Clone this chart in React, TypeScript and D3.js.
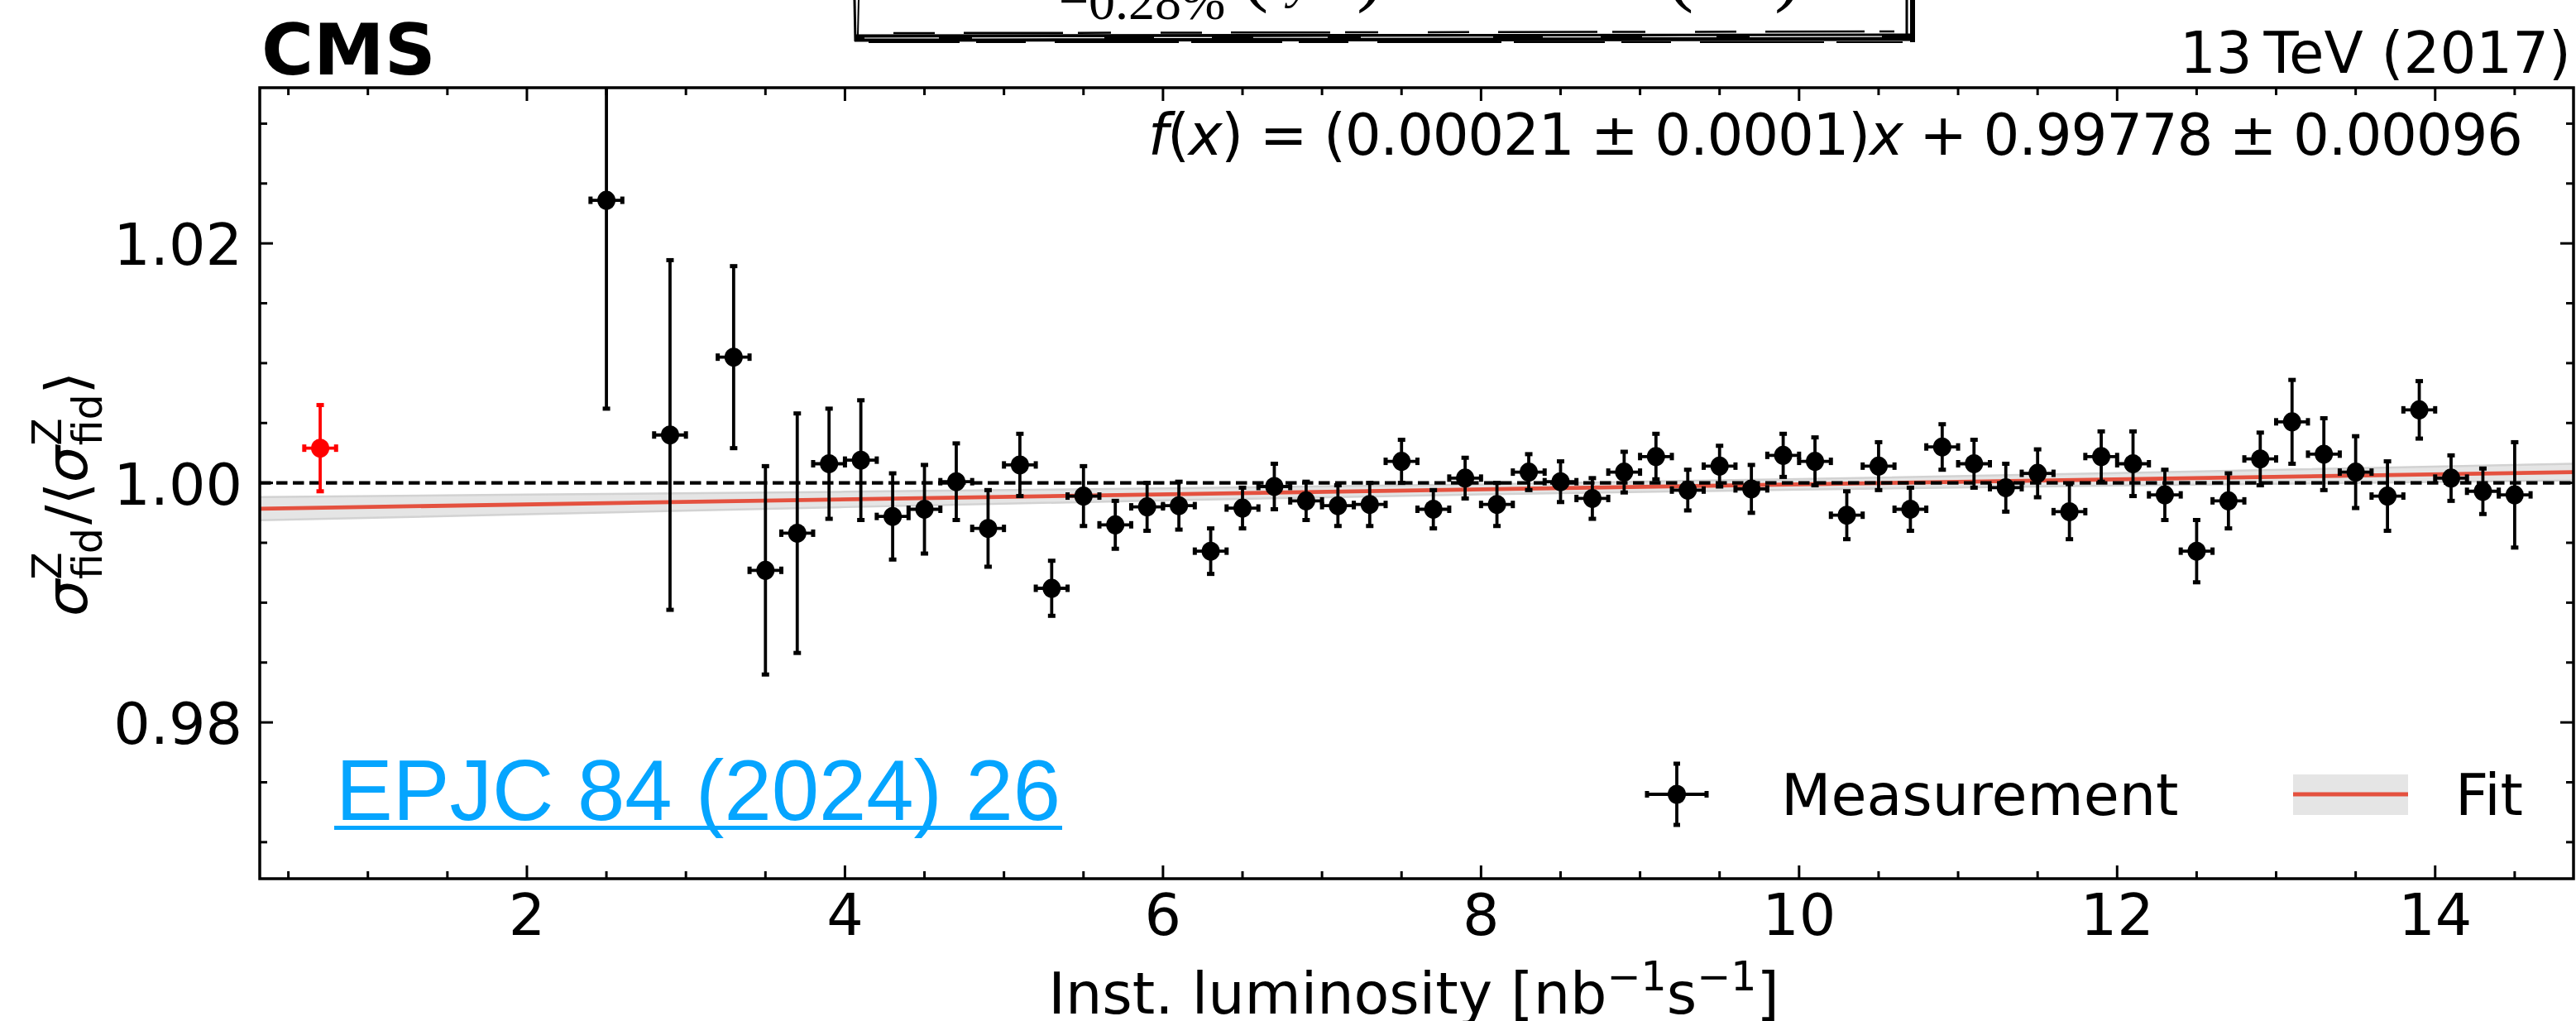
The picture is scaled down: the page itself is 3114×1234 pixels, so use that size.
import React from "react";
import * as d3 from "d3";

// ---------------- data ----------------
const lumi = [2.5, 2.9, 3.3, 3.5, 3.7, 3.9, 4.1, 4.3, 4.5, 4.7, 4.9, 5.1, 5.3, 5.5, 5.7, 5.9, 6.1, 6.3, 6.5, 6.7, 6.9, 7.1, 7.3, 7.5, 7.7, 7.9, 8.1, 8.3, 8.5, 8.7, 8.9, 9.1, 9.3, 9.5, 9.7, 9.9, 10.1, 10.3, 10.5, 10.7, 10.9, 11.1, 11.3, 11.5, 11.7, 11.9, 12.1, 12.3, 12.5, 12.7, 12.9, 13.1, 13.3, 13.5, 13.7, 13.9, 14.1, 14.3, 14.5];
const ratio = [1.0236, 1.004, 1.0105, 0.9927, 0.9958, 1.0016, 1.0019, 0.9972, 0.9978, 1.0001, 0.9962, 1.0015, 0.9912, 0.9989, 0.9965, 0.998, 0.9981, 0.9943, 0.9979, 0.9997, 0.9985, 0.9981, 0.9982, 1.0018, 0.9978, 1.0004, 0.9982, 1.0009, 1.0001, 0.9987, 1.0009, 1.0022, 0.9994, 1.0014, 0.9995, 1.0023, 1.0018, 0.9973, 1.0014, 0.9978, 1.003, 1.0016, 0.9996, 1.0008, 0.9976, 1.0022, 1.0016, 0.999, 0.9943, 0.9985, 1.002, 1.0051, 1.0024, 1.0009, 0.9989, 1.0061, 1.0004, 0.9993, 0.999];
const ratioErr = [0.0174, 0.0146, 0.0076, 0.0087, 0.01, 0.0046, 0.005, 0.0036, 0.0037, 0.0032, 0.0032, 0.0026, 0.0023, 0.0025, 0.002, 0.002, 0.002, 0.0019, 0.0017, 0.0019, 0.0016, 0.0017, 0.0018, 0.0018, 0.0016, 0.0017, 0.0018, 0.0015, 0.0017, 0.0017, 0.0017, 0.0019, 0.0017, 0.0017, 0.002, 0.0018, 0.002, 0.002, 0.002, 0.0018, 0.0019, 0.002, 0.002, 0.002, 0.0023, 0.0021, 0.0027, 0.0021, 0.0026, 0.0023, 0.0022, 0.0035, 0.003, 0.003, 0.0029, 0.0024, 0.0019, 0.0019, 0.0044];
const lumiErr = 0.1;

const refLumi = [0.7];
const refRatio = [1.0029];
const refErr = [0.0036];

const fitSlope = 0.00021;
const fitIntercept = 0.99778;
const bandX = [0.32, 2, 4, 6, 8, 10, 12, 14.87];
const bandHalf = [0.00097, 0.00082, 0.00064, 0.0005, 0.00042, 0.00044, 0.00052, 0.0007];

const xTicks = [2, 4, 6, 8, 10, 12, 14];
const xTickLabels = ["2", "4", "6", "8", "10", "12", "14"];
const yTicks = [0.98, 1.0, 1.02];
const yTickLabels = ["0.98", "1.00", "1.02"];

// ---------------- layout ----------------
const W = 3114;
const H = 1234;
const L = 314;
const R = 3111;
const T = 106;
const B = 1062;
const FONT = "DejaVu Sans";
const RED = "#e4513f";

const xScale = d3.scaleLinear().domain([0.32, 14.87]).range([L, R]);
const yScale = d3.scaleLinear().domain([0.96695, 1.033]).range([B, T]);

const xMinor = d3.range(1, 30).map((k) => k * 0.5).filter((v) => v < 14.87 && v % 2 !== 0);
const yMinor = d3.range(194, 207).map((k) => k * 0.005).filter((v) => Math.abs(Math.round(v * 50) - v * 50) > 1e-6);

function ErrPoint({ x, y, ey, ex, color, r }: { x: number; y: number; ey: number; ex: number; color: string; r: number }) {
  const cx = xScale(x);
  const cy = yScale(y);
  const yTop = yScale(y + ey);
  const yBot = yScale(y - ey);
  const xL = xScale(x - ex);
  const xR = xScale(x + ex);
  const cap = 4.5;
  const capT = 5;
  return (
    <g>
      <line x1={cx} x2={cx} y1={yTop} y2={yBot} stroke={color} strokeWidth={3.8} />
      <line x1={xL} x2={xR} y1={cy} y2={cy} stroke={color} strokeWidth={3.8} />
      <line x1={cx - cap} x2={cx + cap} y1={yTop} y2={yTop} stroke={color} strokeWidth={capT} />
      <line x1={cx - cap} x2={cx + cap} y1={yBot} y2={yBot} stroke={color} strokeWidth={capT} />
      <line x1={xL} x2={xL} y1={cy - cap} y2={cy + cap} stroke={color} strokeWidth={capT} />
      <line x1={xR} x2={xR} y1={cy - cap} y2={cy + cap} stroke={color} strokeWidth={capT} />
      <ellipse cx={cx} cy={cy} rx={r} ry={r + 0.5} fill={color} />
    </g>
  );
}

export default function App() {
  const fit = (x: number) => fitIntercept + fitSlope * x;
  const bandData = bandX.map((x, i) => ({ x, lo: fit(x) - bandHalf[i], hi: fit(x) + bandHalf[i] }));
  const area = d3
    .area<{ x: number; lo: number; hi: number }>()
    .x((d) => xScale(d.x))
    .y0((d) => yScale(d.lo))
    .y1((d) => yScale(d.hi))
    .curve(d3.curveMonotoneX);
  const edgeHi = d3
    .line<{ x: number; lo: number; hi: number }>()
    .x((d) => xScale(d.x))
    .y((d) => yScale(d.hi))
    .curve(d3.curveMonotoneX);
  const edgeLo = d3
    .line<{ x: number; lo: number; hi: number }>()
    .x((d) => xScale(d.x))
    .y((d) => yScale(d.lo))
    .curve(d3.curveMonotoneX);
  const xd = xScale.domain();

  return (
    <svg
      width={W}
      height={H}
      viewBox={`0 0 ${W} ${H}`}
      style={{ position: "absolute", left: 0, top: 0, background: "#fff" }}
      fontFamily={FONT}
    >
      <defs>
        <clipPath id="plotClip">
          <rect x={L} y={T} width={R - L} height={B - T} />
        </clipPath>
      </defs>

      {/* sketchy boxed formula fragment at the top (cut by the page edge, as in the reference) */}
      <g>
        <text x={1280} y={23} fontFamily="Liberation Serif" fontSize={64}>−0.28%</text>
        <text x={1500} y={-5} fontFamily="Liberation Serif" fontSize={100}>(</text>
        <text x={1558} y={-3} fontFamily="Liberation Serif" fontStyle="italic" fontSize={60}>y</text>
        <text x={1640} y={-5} fontFamily="Liberation Serif" fontSize={100}>)</text>
        <text x={2014} y={-5} fontFamily="Liberation Serif" fontSize={100}>(</text>
        <text x={2145} y={-5} fontFamily="Liberation Serif" fontSize={100}>)</text>
        <path d="M1033,0 L1034,50" stroke="#000" strokeWidth={3} fill="none" />
        <path d="M1038,0 L1037,43" stroke="#000" strokeWidth={2} fill="none" />
        <path d="M1033,46 L2314,45" stroke="#000" strokeWidth={9} fill="none" />
        <path d="M1045,46 L2300,44" stroke="#fff" strokeWidth={1.2} strokeDasharray="90 40 160 60 70 50" fill="none" />
        <path d="M1080,40 L2290,38" stroke="#000" strokeWidth={2.5} strokeDasharray="50 35 120 18 40 60" fill="none" />
        <path d="M1050,51 L2300,51" stroke="#000" strokeWidth={2} strokeDasharray="110 20 60 35 150 15" fill="none" />
        <path d="M2305,0 L2305,42" stroke="#000" strokeWidth={3} fill="none" />
        <path d="M2312,0 L2312,51" stroke="#000" strokeWidth={6} fill="none" />
      </g>

      {/* header texts */}
      <text x={316} y={90} fontSize={86} fontWeight="bold">CMS</text>
      <text x={3108} y={88} fontSize={69} textAnchor="end">{"13\u2009TeV (2017)"}</text>

      {/* plot content */}
      <g clipPath="url(#plotClip)">
        <path d={area(bandData) || ""} fill="#e5e5e5" />
        <path d={edgeHi(bandData) || ""} fill="none" stroke="#d2d2d2" strokeWidth={2.5} />
        <path d={edgeLo(bandData) || ""} fill="none" stroke="#d2d2d2" strokeWidth={2.5} />
        <line x1={xScale(xd[0])} x2={xScale(xd[1])} y1={yScale(fit(xd[0]))} y2={yScale(fit(xd[1]))} stroke={RED} strokeWidth={4.8} />
        <line x1={L} x2={R} y1={yScale(1)} y2={yScale(1)} stroke="#000" strokeWidth={4.2} strokeDasharray="13.5 6.5" />
        {refLumi.map((x, i) => (
          <ErrPoint key={"r" + i} x={x} y={refRatio[i]} ey={refErr[i]} ex={lumiErr} color="#ff0000" r={11} />
        ))}
        {lumi.map((x, i) => (
          <ErrPoint key={i} x={x} y={ratio[i]} ey={ratioErr[i]} ex={lumiErr} color="#000" r={11} />
        ))}
      </g>

      {/* fit text */}
      <text x={1388} y={187} fontSize={69} textLength={1662} lengthAdjust="spacing">
        <tspan fontStyle="italic">f</tspan>(<tspan fontStyle="italic">x</tspan>) = (0.00021 ± 0.0001)<tspan fontStyle="italic">x</tspan> + 0.99778 ± 0.00096
      </text>

      {/* ref link */}
      <text x={406} y={991} fontFamily="Liberation Sans" fontSize={103} fill="#05a5ff">EPJC 84 (2024) 26</text>
      <rect x={404} y={998} width={880} height={5} fill="#05a5ff" />

      {/* legend */}
      <g>
        <line x1={2027} x2={2027} y1={923} y2={997} stroke="#000" strokeWidth={3.8} />
        <line x1={1991} x2={2063} y1={960} y2={960} stroke="#000" strokeWidth={3.8} />
        <line x1={2023} x2={2031} y1={923} y2={923} stroke="#000" strokeWidth={5} />
        <line x1={2023} x2={2031} y1={997} y2={997} stroke="#000" strokeWidth={5} />
        <line x1={1991} x2={1991} y1={956} y2={964} stroke="#000" strokeWidth={5} />
        <line x1={2063} x2={2063} y1={956} y2={964} stroke="#000" strokeWidth={5} />
        <ellipse cx={2027} cy={960} rx={11} ry={11.5} fill="#000" />
        <text x={2153} y={985} fontSize={70}>Measurement</text>
        <rect x={2772} y={936} width={139} height={49} fill="#e5e5e5" />
        <line x1={2772} x2={2911} y1={960} y2={960} stroke={RED} strokeWidth={5} />
        <text x={2968} y={985} fontSize={70}>Fit</text>
      </g>

      {/* ticks */}
      <g stroke="#000" strokeWidth={3}>
        {xTicks.map((v) => (
          <g key={"xt" + v}>
            <line x1={xScale(v)} x2={xScale(v)} y1={B} y2={B - 16} />
            <line x1={xScale(v)} x2={xScale(v)} y1={T} y2={T + 16} />
          </g>
        ))}
        {xMinor.map((v) => (
          <g key={"xm" + v}>
            <line x1={xScale(v)} x2={xScale(v)} y1={B} y2={B - 9} />
            <line x1={xScale(v)} x2={xScale(v)} y1={T} y2={T + 9} />
          </g>
        ))}
        {yTicks.map((v) => (
          <g key={"yt" + v}>
            <line x1={L} x2={L + 16} y1={yScale(v)} y2={yScale(v)} />
            <line x1={R} x2={R - 16} y1={yScale(v)} y2={yScale(v)} />
          </g>
        ))}
        {yMinor.map((v) => (
          <g key={"ym" + v}>
            <line x1={L} x2={L + 9} y1={yScale(v)} y2={yScale(v)} />
            <line x1={R} x2={R - 9} y1={yScale(v)} y2={yScale(v)} />
          </g>
        ))}
      </g>

      {/* frame */}
      <rect x={L} y={T} width={R - L} height={B - T} fill="none" stroke="#000" strokeWidth={3.5} />

      {/* tick labels */}
      {xTicks.map((v, i) => (
        <text key={"xl" + v} x={xScale(v)} y={1130} fontSize={70} textAnchor="middle">{xTickLabels[i]}</text>
      ))}
      {yTicks.map((v, i) => (
        <text key={"yl" + v} x={293} y={yScale(v) + 26} fontSize={70} textAnchor="end">{yTickLabels[i]}</text>
      ))}

      {/* axis labels */}
      <text x={1709} y={1225} fontSize={70} textAnchor="middle">
        Inst. luminosity [nb<tspan fontSize={49} dy={-28}>−1</tspan><tspan dy={28}>s</tspan><tspan fontSize={49} dy={-28}>−1</tspan><tspan dy={28}>]</tspan>
      </text>
      <text transform="translate(105,597) rotate(-90)" fontSize={70} textAnchor="middle">
        <tspan fontStyle="italic">σ</tspan>
        <tspan fontSize={49} dy={-31}>Z</tspan>
        <tspan fontSize={49} dx={-33} dy={49}>fid</tspan>
        <tspan dy={-18} dx={4}>/⟨</tspan>
        <tspan fontStyle="italic">σ</tspan>
        <tspan fontSize={49} dy={-31}>Z</tspan>
        <tspan fontSize={49} dx={-33} dy={49}>fid</tspan>
        <tspan dy={-18}>⟩</tspan>
      </text>
    </svg>
  );
}
